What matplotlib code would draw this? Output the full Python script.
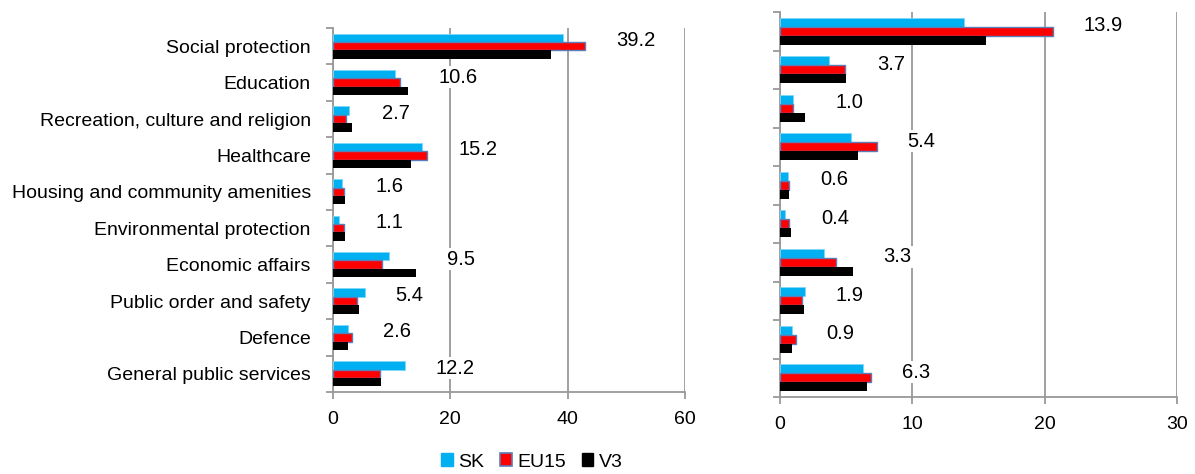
import numpy as np
import matplotlib
matplotlib.use("Agg")
import matplotlib.pyplot as plt
from matplotlib.patches import Patch

plt.rcParams['font.family'] = ['Liberation Sans', 'DejaVu Sans']

categories = ["Social protection", "Education", "Recreation, culture and religion",
              "Healthcare", "Housing and community amenities", "Environmental protection",
              "Economic affairs", "Public order and safety", "Defence",
              "General public services"]

# left panel
sk_l = [39.2, 10.6, 2.7, 15.2, 1.6, 1.1, 9.5, 5.4, 2.6, 12.2]
eu_l = [43.0, 11.5, 2.3, 16.1, 1.8, 1.8, 8.4, 4.1, 3.3, 8.0]
v3_l = [37.2, 12.7, 3.2, 13.3, 2.0, 2.0, 14.2, 4.4, 2.6, 8.1]

# right panel
sk_r = [13.9, 3.7, 1.0, 5.4, 0.6, 0.4, 3.3, 1.9, 0.9, 6.3]
eu_r = [20.6, 4.9, 1.0, 7.3, 0.7, 0.7, 4.2, 1.7, 1.2, 6.9]
v3_r = [15.6, 5.0, 1.9, 5.9, 0.7, 0.8, 5.5, 1.8, 0.9, 6.6]

C_SK = "#00B0F0"
C_EU = "#FF0000"
C_V3 = "#000000"
GRID = "#999999"

fig = plt.figure(figsize=(11.95, 4.74), dpi=100)
ax1 = fig.add_axes([333/1195, 1-392/474, (685-333)/1195, (392-28)/474])
ax2 = fig.add_axes([780/1195, 1-397/474, (1177-780)/1195, (397-12)/474])


def panel(ax, sk, eu, v3, xmax, step, show_labels):
    y = np.arange(len(categories))
    h = 0.23
    ax.barh(y - h, sk, height=h, color=C_SK, edgecolor="#7FD7F7", linewidth=0.6, zorder=3)
    ax.barh(y, eu, height=h, color=C_EU, edgecolor="#5B7DB8", linewidth=1.0, zorder=3)
    ax.barh(y + h, v3, height=h, color=C_V3, zorder=3)
    ax.set_xlim(0, xmax)
    ax.set_ylim(len(categories) - 0.5, -0.5)
    ax.set_xticks(np.arange(0, xmax + 1, step))
    ax.xaxis.grid(True, color=GRID, linewidth=1.3, zorder=0)
    ax.set_yticks(np.arange(-0.5, len(categories), 1.0))
    ax.set_yticklabels([])
    if show_labels:
        ax.set_yticks(y, minor=True)
        ax.set_yticklabels(categories, minor=True, fontsize=14)
        ax.tick_params(axis='y', which='minor', length=0, pad=16)
    ax.tick_params(axis='y', which='major', length=5, color=GRID, width=1.3)
    ax.tick_params(axis='x', length=5, color=GRID, width=1.3, labelsize=14, pad=9)
    for s in ["top", "right"]:
        ax.spines[s].set_visible(False)
    for s in ["left", "bottom"]:
        ax.spines[s].set_color(GRID)
        ax.spines[s].set_linewidth(1.3)
    for i in range(len(categories)):
        top = max(sk[i], eu[i], v3[i])
        ax.annotate(f"{sk[i]:.1f}", xy=(top, i), xytext=(22, 4), textcoords="offset points",
                    ha="left", va="center", fontsize=14.5, zorder=5,
                    bbox=dict(facecolor="white", edgecolor="none", pad=1))


panel(ax1, sk_l, eu_l, v3_l, 60, 20, True)
panel(ax2, sk_r, eu_r, v3_r, 30, 10, False)

handles = [Patch(facecolor=C_SK, edgecolor=C_SK),
           Patch(facecolor=C_EU, edgecolor="#5B7DB8", linewidth=1.2),
           Patch(facecolor=C_V3, edgecolor=C_V3)]
fig.legend(handles, ["SK", "EU15", "V3"], loc="center", bbox_to_anchor=(532/1195, 1-462/474),
           ncol=3, frameon=False, fontsize=14, handlelength=0.6, handleheight=0.6,
           handletextpad=0.3, columnspacing=0.8)

fig.savefig("out.png", dpi=100)
